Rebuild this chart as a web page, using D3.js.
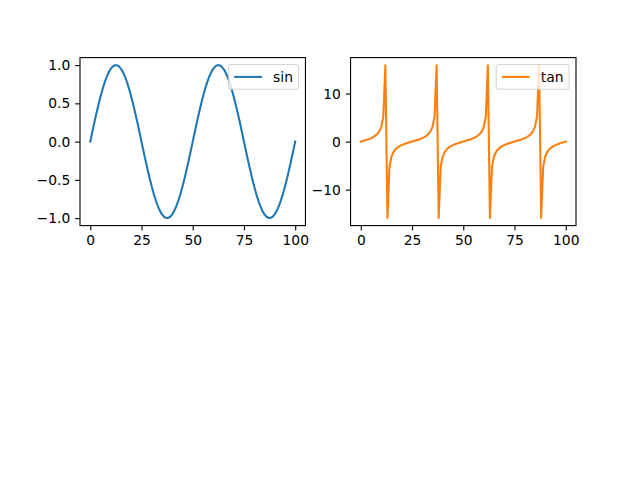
<!DOCTYPE html>
<html><head><meta charset="utf-8">
<script src="https://cdn.jsdelivr.net/npm/d3@7"></script>
<style>body{margin:0;background:#fff}svg{display:block}text{font-family:"DejaVu Sans",sans-serif}</style>
</head><body><svg id="c" width="640" height="480"></svg>
<script>
const sinValues = [0,0.1253,0.2487,0.3681,0.4818,0.5878,0.6845,0.7705,0.8443,0.9048,0.9511,0.9823,0.998,0.998,0.9823,0.9511,0.9048,0.8443,0.7705,0.6845,0.5878,0.4818,0.3681,0.2487,0.1253,0,
-0.1253,-0.2487,-0.3681,-0.4818,-0.5878,-0.6845,-0.7705,-0.8443,-0.9048,-0.9511,-0.9823,-0.998,-0.998,-0.9823,-0.9511,-0.9048,-0.8443,-0.7705,-0.6845,-0.5878,-0.4818,-0.3681,-0.2487,-0.1253,0,
0.1253,0.2487,0.3681,0.4818,0.5878,0.6845,0.7705,0.8443,0.9048,0.9511,0.9823,0.998,0.998,0.9823,0.9511,0.9048,0.8443,0.7705,0.6845,0.5878,0.4818,0.3681,0.2487,0.1253,0,
-0.1253,-0.2487,-0.3681,-0.4818,-0.5878,-0.6845,-0.7705,-0.8443,-0.9048,-0.9511,-0.9823,-0.998,-0.998,-0.9823,-0.9511,-0.9048,-0.8443,-0.7705,-0.6845,-0.5878,-0.4818,-0.3681,-0.2487,-0.1253,0];
const tanValues = [0,
0.1263,0.2568,0.3959,0.5498,0.7265,0.9391,1.2088,1.5757,2.1251,3.0777,5.2422,15.8945,-15.8945,-5.2422,-3.0777,-2.1251,-1.5757,-1.2088,-0.9391,-0.7265,-0.5498,-0.3959,-0.2568,-0.1263,0,
0.1263,0.2568,0.3959,0.5498,0.7265,0.9391,1.2088,1.5757,2.1251,3.0777,5.2422,15.8945,-15.8945,-5.2422,-3.0777,-2.1251,-1.5757,-1.2088,-0.9391,-0.7265,-0.5498,-0.3959,-0.2568,-0.1263,0,
0.1263,0.2568,0.3959,0.5498,0.7265,0.9391,1.2088,1.5757,2.1251,3.0777,5.2422,15.8945,-15.8945,-5.2422,-3.0777,-2.1251,-1.5757,-1.2088,-0.9391,-0.7265,-0.5498,-0.3959,-0.2568,-0.1263,0,
0.1263,0.2568,0.3959,0.5498,0.7265,0.9391,1.2088,1.5757,2.1251,3.0777,5.2422,15.8945,-15.8945,-5.2422,-3.0777,-2.1251,-1.5757,-1.2088,-0.9391,-0.7265,-0.5498,-0.3959,-0.2568,-0.1263,0];
const xTicks = [0,25,50,75,100];
const sinTicks = [-1.0,-0.5,0.0,0.5,1.0];
const tanTicks = [-10,0,10];
const seriesNames = ["sin","tan"];
const colors = ["#1f77b4","#ff7f0e"];

const svg = d3.select("#c");
const FS = 13.89, TL = 4.86, PAD = 4.86;
const axW = 496/2.2, gap = axW*0.2;
const axTop = 57.6, axH = 369.6/2.2;

function panel(x0, values, ticks, fmt, color, name){
  const n = values.length;
  const xMin = 0, xMax = n-1;
  const xm = (xMax-xMin)*0.05;
  const yMin = d3.min(values), yMax = d3.max(values);
  const ym = (yMax-yMin)*0.05;
  const x = d3.scaleLinear().domain([xMin-xm, xMax+xm]).range([x0, x0+axW]);
  const y = d3.scaleLinear().domain([yMin-ym, yMax+ym]).range([axTop+axH, axTop]);
  const g = svg.append("g");
  const clipId = "clip"+name;
  g.append("clipPath").attr("id",clipId).append("rect").attr("x",x0).attr("y",axTop).attr("width",axW).attr("height",axH);
  g.append("path").datum(values).attr("clip-path",`url(#${clipId})`)
    .attr("fill","none").attr("stroke",color).attr("stroke-width",2.08).attr("stroke-linejoin","round").attr("stroke-linecap","square")
    .attr("d", d3.line().x((d,i)=>x(i)).y(d=>y(d)));
  const xa = g.append("g").attr("transform",`translate(0,${axTop+axH})`)
    .call(d3.axisBottom(x).tickValues(xTicks).tickSize(TL).tickPadding(PAD).tickFormat(d3.format("d")));
  const ya = g.append("g").attr("transform",`translate(${x0},0)`)
    .call(d3.axisLeft(y).tickValues(ticks).tickSize(TL).tickPadding(PAD).tickFormat(fmt));
  [xa,ya].forEach(a=>{
    a.select(".domain").remove();
    a.selectAll(".tick line").attr("stroke","#000").attr("stroke-width",1.11);
    a.selectAll(".tick text").attr("fill","#000").style("font-size",FS+"px").style("font-family","DejaVu Sans");
  });
  g.append("rect").attr("x",x0).attr("y",axTop).attr("width",axW).attr("height",axH)
    .attr("fill","none").attr("stroke","#000").attr("stroke-width",1.11);
  const lg = g.append("g");
  const txt = lg.append("text").text(name).style("font-size",FS+"px").attr("fill","#000");
  const tw = txt.node().getComputedTextLength();
  const bp = 0.4*FS, hl = 2*FS, tp = 0.8*FS;
  const lw = bp*2 + hl + tp + tw, lh = bp*2 + FS*0.98;
  const lx = x0 + axW - 0.5*FS - lw, ly = axTop + 0.5*FS;
  lg.insert("rect","text").attr("x",lx).attr("y",ly).attr("width",lw).attr("height",lh).attr("rx",2.8)
    .attr("fill","rgba(255,255,255,0.8)").attr("stroke","rgba(204,204,204,0.8)").attr("stroke-width",1.11);
  lg.insert("line","text").attr("x1",lx+bp).attr("x2",lx+bp+hl).attr("y1",ly+lh/2).attr("y2",ly+lh/2)
    .attr("stroke",color).attr("stroke-width",2.08);
  txt.attr("x",lx+bp+hl+tp).attr("y",ly+lh/2).attr("dy","0.35em");
}
panel(80, sinValues, sinTicks, d3.format(".1f"), colors[0], seriesNames[0]);
panel(80+axW+gap, tanValues, tanTicks, d3.format("d"), colors[1], seriesNames[1]);
</script></body></html>
